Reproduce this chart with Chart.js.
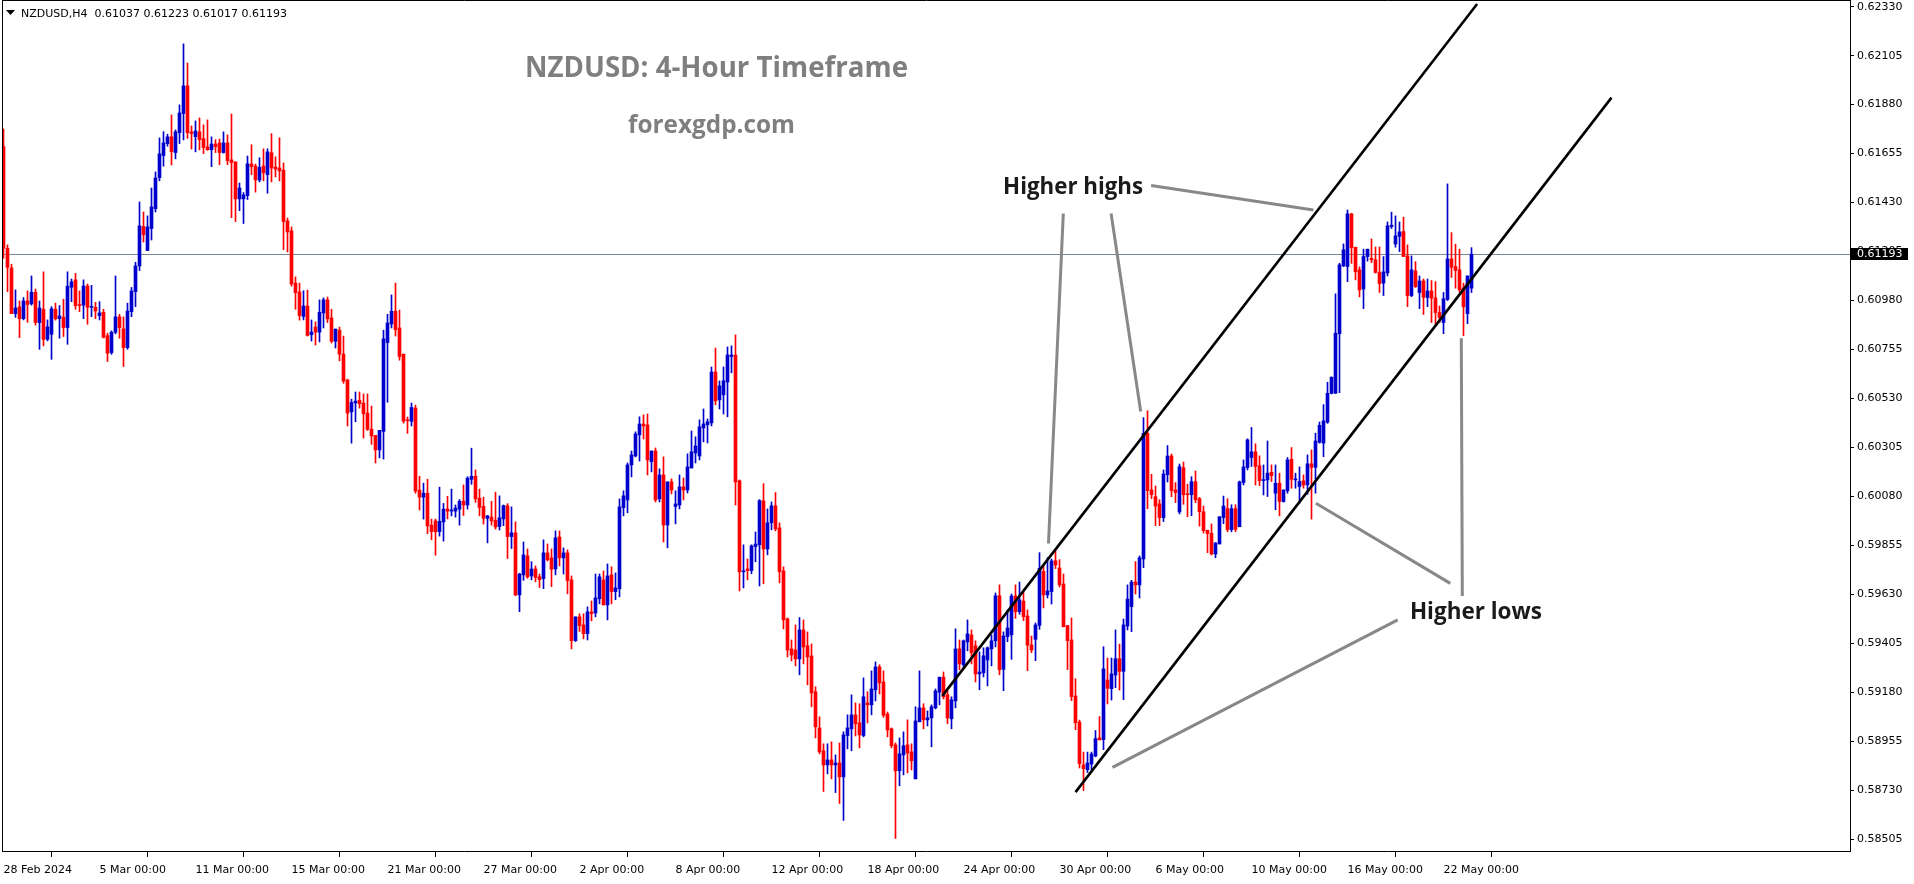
<!DOCTYPE html>
<html><head><meta charset="utf-8">
<script src="https://cdn.jsdelivr.net/npm/chart.js"></script>
<style>html,body{margin:0;padding:0;background:#fff;overflow:hidden}#wrap{position:relative;width:1914px;height:884px}</style>
</head><body><div id="wrap"><canvas id="c" width="1914" height="884"></canvas></div>
<script>
const symbolLabel = 'NZDUSD,H4';
const headerValues = ['0.61037', '0.61223', '0.61017', '0.61193'];
const titleText = 'NZDUSD: 4-Hour Timeframe';
const subtitleText = 'forexgdp.com';
const timeTickBars = [0, 24, 48, 72, 96, 120, 144, 168, 192, 216, 240, 264, 288, 312, 336, 360];
const timeLabels = ['28 Feb 2024', '5 Mar 00:00', '11 Mar 00:00', '15 Mar 00:00', '21 Mar 00:00', '27 Mar 00:00', '2 Apr 00:00', '8 Apr 00:00', '12 Apr 00:00', '18 Apr 00:00', '24 Apr 00:00', '30 Apr 00:00', '6 May 00:00', '10 May 00:00', '16 May 00:00', '22 May 00:00'];
const priceTicks = [0.62330, 0.62105, 0.61880, 0.61655, 0.61430, 0.61205, 0.60980, 0.60755, 0.60530, 0.60305, 0.60080, 0.59855, 0.59630, 0.59405, 0.59180, 0.58955, 0.58730, 0.58505];
const bidPrice = 0.61193;

const open = [
0.61687,0.61220,0.61130,0.60920,0.60951,0.60897,0.60978,0.60965,0.61018,0.60879,
0.60940,0.60802,0.60825,0.60940,0.60897,0.60903,0.60856,0.61041,0.61075,0.60960,
0.60959,0.61047,0.60949,0.60949,0.60911,0.60926,0.60819,0.60741,0.60834,0.60905,
0.60850,0.60764,0.60929,0.61021,0.61139,0.61320,0.61210,0.61311,0.61402,0.61545,
0.61646,0.61701,0.61732,0.61660,0.61751,0.61839,0.61966,0.61755,0.61733,0.61755,
0.61724,0.61686,0.61673,0.61699,0.61704,0.61660,0.61704,0.61626,0.61617,0.61447,
0.61447,0.61462,0.61607,0.61598,0.61534,0.61598,0.61558,0.61659,0.61593,0.61589,
0.61579,0.61346,0.61300,0.61060,0.61020,0.60907,0.60955,0.60823,0.60858,0.60835,
0.60923,0.60983,0.60900,0.60793,0.60844,0.60734,0.60615,0.60469,0.60510,0.60522,
0.60509,0.60463,0.60389,0.60361,0.60294,0.60379,0.60787,0.60872,0.60931,0.60854,
0.60734,0.60431,0.60425,0.60486,0.60109,0.60077,0.60095,0.59948,0.59968,0.59919,
0.59963,0.60022,0.60013,0.60013,0.60022,0.60058,0.60041,0.60159,0.60173,0.60072,
0.60035,0.59980,0.59985,0.59971,0.59942,0.59977,0.60037,0.59896,0.59913,0.59628,
0.59720,0.59807,0.59715,0.59747,0.59711,0.59703,0.59821,0.59798,0.59747,0.59894,
0.59798,0.59821,0.59697,0.59418,0.59527,0.59490,0.59450,0.59550,0.59545,0.59610,
0.59697,0.59582,0.59720,0.59643,0.59656,0.60029,0.60064,0.60225,0.60266,0.60363,
0.60413,0.60409,0.60240,0.60289,0.60069,0.60179,0.59949,0.60147,0.60034,0.60041,
0.60124,0.60110,0.60211,0.60280,0.60266,0.60395,0.60409,0.60418,0.60652,0.60524,
0.60547,0.60606,0.60723,0.60730,0.60152,0.59734,0.59747,0.59740,0.59850,0.59858,
0.60060,0.59839,0.59959,0.60037,0.59936,0.59738,0.59518,0.59380,0.59375,0.59334,
0.59467,0.59394,0.59348,0.59183,0.59017,0.58912,0.58847,0.58870,0.58847,0.58856,
0.58792,0.58982,0.59013,0.59077,0.59040,0.58982,0.59132,0.59123,0.59192,0.59297,
0.59228,0.59081,0.59013,0.58939,0.58820,0.58893,0.58939,0.58907,0.58783,0.59045,
0.59109,0.59054,0.59063,0.59109,0.59181,0.59250,0.59169,0.59059,0.59141,0.59380,
0.59307,0.59412,0.59444,0.59394,0.59265,0.59270,0.59329,0.59380,0.59417,0.59624,
0.59286,0.59436,0.59444,0.59623,0.59551,0.59600,0.59531,0.59398,0.59424,0.59488,
0.59736,0.59628,0.59643,0.59785,0.59752,0.59678,0.59487,0.59421,0.59164,0.59044,
0.58847,0.58825,0.58851,0.58888,0.58971,0.58963,0.59237,0.59197,0.59260,0.59335,
0.59277,0.59485,0.59574,0.59687,0.59674,0.59793,0.60370,0.60110,0.60079,0.60046,
0.59983,0.60180,0.60266,0.60110,0.60009,0.60212,0.60091,0.60088,0.60148,0.60070,
0.60010,0.59925,0.59911,0.59816,0.59862,0.59983,0.60024,0.59928,0.60024,0.59941,
0.60144,0.60213,0.60259,0.60285,0.60221,0.60153,0.60156,0.60191,0.60095,0.60141,
0.60057,0.60106,0.60251,0.60156,0.60126,0.60152,0.60133,0.60230,0.60214,0.60329,
0.60325,0.60421,0.60554,0.60554,0.60828,0.61139,0.61136,0.61378,0.61225,0.61121,
0.61033,0.61182,0.61174,0.61167,0.61109,0.61060,0.61107,0.61320,0.61240,0.61275,
0.61297,0.61185,0.61003,0.61116,0.61017,0.61070,0.60994,0.61024,0.60992,0.60925,
0.60879,0.60985,0.61171,0.61136,0.61121,0.61038,0.60920,0.61037];

const high = [
0.61768,0.61236,0.61147,0.61029,0.60978,0.60994,0.61024,0.61093,0.61033,0.60978,
0.61112,0.60891,0.60952,0.60968,0.60957,0.60986,0.61112,0.61079,0.61105,0.61024,
0.61075,0.61056,0.61050,0.60972,0.60975,0.60940,0.60830,0.60841,0.61093,0.60917,
0.60905,0.60968,0.61040,0.61156,0.61433,0.61387,0.61369,0.61497,0.61571,0.61727,
0.61756,0.61744,0.61833,0.61764,0.61879,0.62159,0.62071,0.61782,0.61805,0.61819,
0.61787,0.61810,0.61732,0.61719,0.61722,0.61755,0.61741,0.61837,0.61617,0.61520,
0.61476,0.61644,0.61696,0.61607,0.61636,0.61677,0.61677,0.61747,0.61640,0.61728,
0.61612,0.61359,0.61318,0.61089,0.61060,0.61025,0.61028,0.60891,0.60882,0.60983,
0.60992,0.60996,0.60940,0.60849,0.60858,0.60817,0.60619,0.60527,0.60560,0.60560,
0.60551,0.60551,0.60495,0.60361,0.60384,0.60844,0.60917,0.61006,0.61060,0.60936,
0.60734,0.60445,0.60509,0.60500,0.60173,0.60141,0.60159,0.59976,0.59976,0.60123,
0.60048,0.60081,0.60114,0.60041,0.60066,0.60133,0.60171,0.60302,0.60202,0.60114,
0.60077,0.59993,0.60058,0.60100,0.60083,0.60041,0.60047,0.60032,0.59963,0.59727,
0.59871,0.59839,0.59780,0.59761,0.59724,0.59881,0.59862,0.59839,0.59922,0.59922,
0.59844,0.59835,0.59715,0.59527,0.59541,0.59541,0.59573,0.59600,0.59724,0.59724,
0.59738,0.59770,0.59757,0.59729,0.60069,0.60106,0.60234,0.60289,0.60377,0.60446,
0.60455,0.60459,0.60289,0.60303,0.60207,0.60262,0.60147,0.60161,0.60106,0.60179,
0.60165,0.60276,0.60381,0.60354,0.60432,0.60482,0.60436,0.60675,0.60762,0.60611,
0.60675,0.60767,0.60772,0.60822,0.60156,0.59858,0.59793,0.59858,0.59917,0.60066,
0.60139,0.60023,0.60055,0.60098,0.59959,0.59757,0.59522,0.59421,0.59490,0.59524,
0.59513,0.59458,0.59403,0.59206,0.59068,0.58944,0.58944,0.58953,0.58893,0.58948,
0.58999,0.59077,0.59169,0.59132,0.59128,0.59247,0.59183,0.59279,0.59320,0.59307,
0.59279,0.59090,0.59017,0.58948,0.58971,0.58999,0.59054,0.58944,0.59114,0.59279,
0.59128,0.59095,0.59123,0.59196,0.59250,0.59274,0.59187,0.59160,0.59472,0.59421,
0.59421,0.59513,0.59467,0.59417,0.59366,0.59385,0.59389,0.59444,0.59637,0.59674,
0.59458,0.59559,0.59632,0.59674,0.59687,0.59641,0.59559,0.59439,0.59499,0.59822,
0.59758,0.59799,0.59793,0.59831,0.59790,0.59724,0.59487,0.59522,0.59243,0.59053,
0.58906,0.58906,0.58906,0.59005,0.59069,0.59390,0.59338,0.59338,0.59467,0.59402,
0.59517,0.59674,0.59695,0.59781,0.59807,0.60442,0.60474,0.60182,0.60128,0.60065,
0.60202,0.60314,0.60275,0.60144,0.60229,0.60238,0.60137,0.60171,0.60197,0.60076,
0.60036,0.59925,0.59954,0.59869,0.59987,0.60082,0.60070,0.60042,0.60042,0.60151,
0.60248,0.60345,0.60397,0.60322,0.60267,0.60225,0.60335,0.60225,0.60225,0.60187,
0.60110,0.60259,0.60305,0.60187,0.60216,0.60179,0.60271,0.60294,0.60371,0.60422,
0.60502,0.60605,0.60629,0.61011,0.61151,0.61240,0.61396,0.61381,0.61225,0.61135,
0.61216,0.61216,0.61263,0.61226,0.61226,0.61182,0.61341,0.61386,0.61369,0.61341,
0.61363,0.61236,0.61185,0.61159,0.61093,0.61079,0.61079,0.61072,0.61067,0.60955,
0.61017,0.61516,0.61292,0.61239,0.61216,0.61060,0.61093,0.61223];

const low = [
0.61174,0.61021,0.60920,0.60903,0.60810,0.60891,0.60880,0.60959,0.60867,0.60756,
0.60772,0.60795,0.60710,0.60890,0.60807,0.60815,0.60779,0.60975,0.60940,0.60929,
0.60897,0.60871,0.60906,0.60897,0.60891,0.60808,0.60700,0.60733,0.60827,0.60807,
0.60677,0.60756,0.60906,0.60952,0.61118,0.61249,0.61210,0.61258,0.61387,0.61530,
0.61597,0.61689,0.61603,0.61631,0.61701,0.61718,0.61725,0.61676,0.61663,0.61672,
0.61655,0.61670,0.61595,0.61660,0.61604,0.61657,0.61604,0.61361,0.61343,0.61393,
0.61334,0.61444,0.61558,0.61478,0.61525,0.61530,0.61473,0.61525,0.61548,0.61530,
0.61214,0.61203,0.61046,0.60940,0.60890,0.60891,0.60817,0.60794,0.60776,0.60790,
0.60854,0.60879,0.60785,0.60762,0.60703,0.60600,0.60404,0.60325,0.60423,0.60486,
0.60349,0.60383,0.60319,0.60234,0.60257,0.60252,0.60513,0.60854,0.60817,0.60706,
0.60417,0.60370,0.60404,0.60095,0.60018,0.59976,0.59909,0.59881,0.59810,0.59898,
0.59875,0.59977,0.59991,0.59985,0.59948,0.59993,0.60022,0.60136,0.60053,0.59991,
0.59953,0.59867,0.59948,0.59930,0.59926,0.59946,0.59795,0.59841,0.59624,0.59551,
0.59695,0.59704,0.59697,0.59688,0.59662,0.59657,0.59784,0.59666,0.59720,0.59761,
0.59724,0.59633,0.59380,0.59414,0.59460,0.59426,0.59421,0.59509,0.59527,0.59587,
0.59582,0.59513,0.59587,0.59606,0.59619,0.59991,0.60005,0.60170,0.60262,0.60243,
0.60344,0.60179,0.60193,0.60055,0.60055,0.59871,0.59844,0.60092,0.59954,0.60023,
0.60064,0.60096,0.60211,0.60234,0.60248,0.60331,0.60326,0.60404,0.60501,0.60482,
0.60459,0.60446,0.60648,0.60041,0.59646,0.59660,0.59697,0.59725,0.59780,0.59669,
0.59679,0.59812,0.59927,0.59922,0.59683,0.59472,0.59343,0.59325,0.59302,0.59261,
0.59311,0.59215,0.59114,0.58971,0.58898,0.58725,0.58806,0.58783,0.58720,0.58670,
0.58592,0.58921,0.58912,0.58980,0.58925,0.58976,0.59040,0.59077,0.59141,0.59173,
0.59066,0.58976,0.58925,0.58509,0.58751,0.58801,0.58810,0.58824,0.58783,0.59045,
0.59013,0.59026,0.58930,0.59104,0.59123,0.59150,0.59036,0.59013,0.59109,0.59284,
0.59288,0.59371,0.59311,0.59228,0.59192,0.59251,0.59210,0.59302,0.59389,0.59261,
0.59188,0.59413,0.59332,0.59520,0.59539,0.59510,0.59280,0.59363,0.59326,0.59470,
0.59568,0.59614,0.59586,0.59749,0.59664,0.59481,0.59285,0.59142,0.59009,0.58833,
0.58729,0.58812,0.58824,0.58884,0.58962,0.58917,0.59127,0.59145,0.59202,0.59191,
0.59147,0.59467,0.59459,0.59632,0.59614,0.59753,0.60024,0.60070,0.59946,0.59946,
0.59965,0.60147,0.60079,0.60052,0.60000,0.60044,0.59987,0.59992,0.60052,0.59944,
0.59912,0.59822,0.59811,0.59799,0.59862,0.59955,0.59918,0.59918,0.59918,0.59941,
0.60133,0.60202,0.60218,0.60133,0.60130,0.60087,0.60080,0.60149,0.60019,0.59991,
0.60054,0.60095,0.60118,0.60118,0.60049,0.60118,0.60090,0.59976,0.60095,0.60325,
0.60263,0.60416,0.60551,0.60554,0.60557,0.61136,0.61067,0.61151,0.61075,0.60997,
0.60943,0.61161,0.61154,0.61106,0.61017,0.61003,0.61093,0.61311,0.61225,0.61205,
0.61182,0.60952,0.60998,0.61040,0.60943,0.60916,0.60952,0.60879,0.60861,0.60879,
0.60828,0.60980,0.61086,0.61037,0.61018,0.60819,0.60874,0.61017];

const close = [
0.61220,0.61133,0.60920,0.60946,0.60897,0.60978,0.60962,0.61018,0.60879,0.60946,
0.60802,0.60859,0.60942,0.60897,0.60909,0.60856,0.61046,0.61066,0.60957,0.60957,
0.61047,0.60949,0.60952,0.60932,0.60923,0.60811,0.60738,0.60834,0.60905,0.60856,
0.60764,0.60932,0.61024,0.61139,0.61323,0.61283,0.61318,0.61410,0.61543,0.61654,
0.61704,0.61732,0.61664,0.61755,0.61842,0.61966,0.61751,0.61747,0.61759,0.61719,
0.61683,0.61673,0.61699,0.61687,0.61660,0.61704,0.61623,0.61614,0.61447,0.61497,
0.61465,0.61608,0.61595,0.61534,0.61592,0.61567,0.61663,0.61589,0.61584,0.61576,
0.61343,0.61295,0.61056,0.61016,0.60911,0.60955,0.60820,0.60835,0.60835,0.60926,
0.60983,0.60896,0.60793,0.60849,0.60734,0.60610,0.60463,0.60512,0.60518,0.60506,
0.60460,0.60389,0.60358,0.60294,0.60384,0.60804,0.60877,0.60931,0.60846,0.60723,
0.60426,0.60428,0.60489,0.60105,0.60077,0.60095,0.59945,0.59919,0.59918,0.59966,
0.60022,0.60013,0.60018,0.60027,0.60058,0.60041,0.60164,0.60173,0.60069,0.60030,
0.59980,0.59991,0.59968,0.59940,0.59982,0.60038,0.59896,0.59913,0.59628,0.59724,
0.59812,0.59711,0.59747,0.59708,0.59698,0.59821,0.59789,0.59746,0.59890,0.59798,
0.59821,0.59694,0.59418,0.59527,0.59487,0.59450,0.59550,0.59542,0.59614,0.59711,
0.59582,0.59715,0.59643,0.59660,0.60032,0.60083,0.60225,0.60271,0.60367,0.60413,
0.60404,0.60248,0.60289,0.60064,0.60179,0.59949,0.60147,0.60110,0.60046,0.60124,
0.60110,0.60216,0.60285,0.60312,0.60400,0.60413,0.60423,0.60652,0.60519,0.60588,
0.60611,0.60730,0.60730,0.60147,0.59734,0.59738,0.59740,0.59853,0.59862,0.60061,
0.59839,0.59959,0.60037,0.59931,0.59734,0.59513,0.59375,0.59352,0.59334,0.59467,
0.59389,0.59343,0.59178,0.59022,0.58907,0.58847,0.58870,0.58847,0.58856,0.58792,
0.58985,0.59017,0.59077,0.59036,0.58985,0.59160,0.59123,0.59196,0.59297,0.59224,
0.59075,0.59008,0.58935,0.58820,0.58898,0.58935,0.58902,0.58866,0.59049,0.59109,
0.59054,0.59063,0.59114,0.59187,0.59250,0.59160,0.59063,0.59146,0.59380,0.59311,
0.59417,0.59449,0.59362,0.59265,0.59274,0.59348,0.59385,0.59417,0.59624,0.59284,
0.59439,0.59476,0.59623,0.59551,0.59605,0.59528,0.59397,0.59375,0.59490,0.59750,
0.59628,0.59646,0.59784,0.59765,0.59674,0.59482,0.59418,0.59161,0.59041,0.58853,
0.58830,0.58856,0.58897,0.58968,0.58962,0.59288,0.59199,0.59265,0.59335,0.59277,
0.59490,0.59609,0.59687,0.59674,0.59798,0.60370,0.60107,0.60088,0.60036,0.59983,
0.60183,0.60266,0.60107,0.60098,0.60217,0.60088,0.60088,0.60148,0.60065,0.60010,
0.59923,0.59910,0.59816,0.59866,0.59987,0.60036,0.59928,0.60024,0.59929,0.60147,
0.60216,0.60340,0.60285,0.60218,0.60153,0.60156,0.60187,0.60176,0.60141,0.60057,
0.60110,0.60248,0.60159,0.60161,0.60149,0.60133,0.60230,0.60214,0.60335,0.60407,
0.60427,0.60554,0.60628,0.60830,0.61144,0.61213,0.61378,0.61223,0.61112,0.61029,
0.61182,0.61216,0.61167,0.61109,0.61058,0.61112,0.61323,0.61326,0.61277,0.61295,
0.61182,0.61003,0.61121,0.61044,0.61070,0.60995,0.61024,0.60991,0.60925,0.60902,
0.60988,0.61171,0.61133,0.61118,0.61029,0.60952,0.61093,0.61193];

// drawn objects, in (bar index, price)
const channelLines = [
  { from: [234.7, 0.59164], to: [368.4, 0.62342] },
  { from: [268.0, 0.58722], to: [402.0, 0.61912] }
];
const pointerLines = [
  { from: [286.9, 0.61509], to: [327.5, 0.61396] },
  { from: [264.95, 0.61380], to: [261.25, 0.59864] },
  { from: [276.9, 0.61380], to: [284.3, 0.60470] },
  { from: [348.55, 0.59513], to: [277.25, 0.58836] },
  { from: [361.7, 0.59681], to: [328.1, 0.60049] },
  { from: [364.7, 0.59623], to: [364.45, 0.60807] }
];
const noteTexts = [
  { text: 'Higher highs', at: [267.4, 0.61500] },
  { text: 'Higher lows', at: [368.1, 0.59548] }
];

const BULL = '#0000CD', BEAR = '#FF0000';
const bars = open.map((_, i) => i);
const candleColors = bars.map(i => close[i] >= open[i] ? BULL : BEAR);
const UI_FONT = '"DejaVu Sans", Verdana, sans-serif';

function fitFont(ctx, text, weight, family, width) {
  ctx.font = weight + ' 100px ' + family;
  const w = ctx.measureText(text).width;
  return weight + ' ' + (100 * width / w).toFixed(2) + 'px ' + family;
}

const overlay = {
  id: 'overlay',
  beforeDatasetsDraw(chart) {
    const { ctx, chartArea: a, scales: { y } } = chart;
    const yb = Math.round(y.getPixelForValue(bidPrice)) + 0.5;
    ctx.save();
    ctx.strokeStyle = '#778899'; ctx.lineWidth = 1;
    ctx.beginPath(); ctx.moveTo(a.left, yb); ctx.lineTo(a.right, yb); ctx.stroke();
    ctx.restore();
  },
  afterDatasetsDraw(chart) {
    const { ctx, chartArea: a, scales: { x, y } } = chart;
    const P = pt => [x.getPixelForValue(pt[0]), y.getPixelForValue(pt[1])];
    ctx.save();
    ctx.beginPath(); ctx.rect(a.left, a.top, a.right - a.left, a.bottom - a.top); ctx.clip();
    ctx.lineCap = 'butt';
    ctx.strokeStyle = '#000'; ctx.lineWidth = 2.6;
    channelLines.forEach(l => { const p = P(l.from), q = P(l.to); ctx.beginPath(); ctx.moveTo(p[0], p[1]); ctx.lineTo(q[0], q[1]); ctx.stroke(); });
    ctx.strokeStyle = '#888888'; ctx.lineWidth = 3;
    pointerLines.forEach(l => { const p = P(l.from), q = P(l.to); ctx.beginPath(); ctx.moveTo(p[0], p[1]); ctx.lineTo(q[0], q[1]); ctx.stroke(); });
    ctx.fillStyle = '#1a1a1a'; ctx.textAlign = 'center'; ctx.textBaseline = 'middle';
    const widths = [140, 132];
    noteTexts.forEach((t, k) => { const p = P(t.at); ctx.font = fitFont(ctx, t.text, 'bold', '"Open Sans", sans-serif', widths[k]); ctx.fillText(t.text, p[0], p[1]); });
    ctx.restore();
  },
  afterDraw(chart) {
    const { ctx, chartArea: a, scales: { y } } = chart;
    ctx.save();
    // frame
    ctx.strokeStyle = '#000'; ctx.lineWidth = 1;
    ctx.beginPath();
    ctx.moveTo(a.left + 0.5, 0); ctx.lineTo(a.left + 0.5, a.bottom);
    ctx.moveTo(a.left, 0.5); ctx.lineTo(a.right + 1, 0.5);
    ctx.moveTo(a.right + 0.5, 0); ctx.lineTo(a.right + 0.5, a.bottom);
    ctx.moveTo(a.left, a.bottom - 0.5); ctx.lineTo(a.right + 1, a.bottom - 0.5);
    ctx.stroke();
    // bid label on price axis
    const yb = Math.round(y.getPixelForValue(bidPrice));
    ctx.fillStyle = '#000'; ctx.fillRect(a.right + 1, yb - 6, 57, 12);
    ctx.fillStyle = '#fff'; ctx.font = '11px ' + UI_FONT; ctx.textAlign = 'left'; ctx.textBaseline = 'middle';
    ctx.fillText(bidPrice.toFixed(5), a.right + 7, yb + 0.5);
    // header
    ctx.fillStyle = '#000';
    ctx.beginPath(); ctx.moveTo(6, 10); ctx.lineTo(15, 10); ctx.lineTo(10.5, 15); ctx.closePath(); ctx.fill();
    ctx.textBaseline = 'alphabetic';
    ctx.fillText(symbolLabel + '  ' + headerValues.join(' '), 21, 17);
    // title & site
    ctx.fillStyle = '#7f7f7f'; ctx.textAlign = 'center';
    ctx.font = fitFont(ctx, titleText, 'bold', '"Open Sans", sans-serif', 383);
    ctx.fillText(titleText, 716.5, 76.5);
    ctx.font = fitFont(ctx, subtitleText, 'bold', '"Open Sans", sans-serif', 167);
    ctx.fillText(subtitleText, 711.5, 133);
    ctx.restore();
  }
};

Chart.defaults.font.family = UI_FONT;
Chart.defaults.font.size = 11;
Chart.defaults.color = '#000';

new Chart(document.getElementById('c'), {
  type: 'bar',
  data: {
    datasets: [
      { label: 'range', data: bars.map(i => ({ x: i, y: [low[i], high[i]] })), backgroundColor: candleColors,
        grouped: false, barPercentage: 1, categoryPercentage: 1, maxBarThickness: 1, order: 2 },
      { label: 'body', data: bars.map(i => ({ x: i, y: [open[i], close[i]] })), backgroundColor: candleColors,
        grouped: false, barPercentage: 1, categoryPercentage: 1, maxBarThickness: 3, minBarLength: 1, order: 1 }
    ]
  },
  options: {
    responsive: false, animation: false,
    layout: { padding: { left: 2, top: 1, right: 0, bottom: 0 } },
    plugins: { legend: { display: false }, tooltip: { enabled: false } },
    scales: {
      x: {
        type: 'linear', min: -0.375, max: 461.625, bounds: 'data', offset: false,
        afterBuildTicks: s => { s.ticks = timeTickBars.map(v => ({ value: v })); },
        afterFit: s => { s.height = 32; s.paddingLeft = 0; s.paddingRight = 0; },
        ticks: { callback: (v, i) => timeLabels[i], align: 'start', maxRotation: 0, minRotation: 0, autoSkip: false, padding: 7 },
        grid: { drawOnChartArea: false, drawTicks: true, tickLength: 5, color: '#000' },
        border: { display: false }
      },
      y: {
        type: 'linear', position: 'right', min: 0.58447, max: 0.62356, bounds: 'data',
        afterBuildTicks: s => { s.ticks = priceTicks.map(v => ({ value: v })); },
        afterFit: s => { s.width = 64; s.paddingTop = 0; s.paddingBottom = 0; },
        ticks: { callback: v => Number(v).toFixed(5), padding: 3 },
        grid: { drawOnChartArea: false, drawTicks: true, tickLength: 4, color: '#000' },
        border: { display: false }
      }
    }
  },
  plugins: [overlay]
});
</script>
</body></html>
